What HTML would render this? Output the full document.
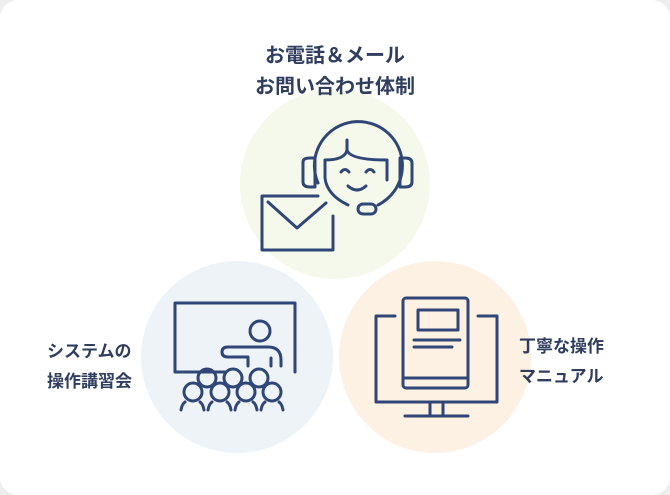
<!DOCTYPE html><html><head><meta charset="utf-8"><style>
body{margin:0;background:#eee;}
.w{position:relative;width:670px;height:495px;background:#fff;border-radius:18px;overflow:hidden;font-family:"Liberation Sans","Noto Sans CJK JP",sans-serif;}
.t{position:absolute;color:#2f3d5e;font-weight:bold;font-size:17px;line-height:30px;}
</style></head><body><div class="w">
<svg width="670" height="495" style="position:absolute;left:0;top:0">
<circle cx="335" cy="184" r="95" fill="#f5f9eb"/>
<circle cx="237" cy="357" r="96" fill="#eef3f8"/>
<circle cx="435" cy="357" r="96" fill="#fdf1e4"/>
<g fill="none" stroke="#2f4677" stroke-width="3" stroke-linecap="round" stroke-linejoin="round">
<path d="M318 183 A44 44 0 1 1 378 205"/>
<path d="M347 140 L347 150 Q345 160 325 160 L325 178 Q327 195 348 205"/>
<path d="M347 150 Q350 160 387 160 L387 180"/>
<path d="M303 162 Q303 158 310 158 L315 158 L315 187 L310 187 Q303 187 303 182Z"/>
<path d="M400 158 L405 158 Q412 158 412 163 L412 182 Q412 187 405 187 L400 187Z"/>
<path d="M341 172 Q345 167 349 172 M366 172 Q370 167 374 172 M348 186 Q357 194 366 186"/>
<rect x="358" y="204" width="18" height="10" rx="5"/>
<path d="M318 196 L262 196 L262 250 L333 250 L333 216"/>
<path d="M268 202 L297 228 L326 203"/>
<path d="M225 372 L175 372 L175 303 L295 303 L295 372"/>
<circle cx="260" cy="331" r="10"/>
<path d="M248 366 L248 357 L228 357 Q222 357 222 352 Q222 347 228 347 L268 347 Q281 347 281 360 L281 366 M271 358 L271 366"/>
<circle cx="207" cy="378" r="9"/><circle cx="233" cy="378" r="9"/><circle cx="259" cy="378" r="9"/>
<circle cx="193" cy="392" r="9" fill="#eef3f8"/><circle cx="220" cy="392" r="9" fill="#eef3f8"/><circle cx="246" cy="392" r="9" fill="#eef3f8"/><circle cx="272" cy="392" r="9" fill="#eef3f8"/>
<path d="M181 410 Q182 404 185 402 M204 410 Q203 404 200 402 M208 410 Q209 404 212 402 M231 410 Q230 404 227 402 M235 410 Q236 404 239 402 M257 410 Q256 404 253 402 M261 410 Q262 404 265 402 M283 410 Q282 404 279 402"/>
<path d="M395 316 L376 316 L376 402 L497 402 L497 316 L478 316"/>
<path d="M430 402 L430 416 M443 402 L443 416 M405 416 L468 416"/>
<rect x="403" y="298" width="65" height="90" rx="3" fill="#fdf1e4"/>
<path d="M403 378 L468 378"/>
<rect x="418" y="310" width="40" height="20"/>
<path d="M414 340 L460 340 M414 347 L452 347"/>
</g></svg>
<div class="t" style="left:0;width:670px;text-align:center;top:41px;font-size:20px;line-height:31px">お電話＆メール<br>お問い合わせ体制</div>
<div class="t" style="left:47px;top:337px">システムの<br>操作講習会</div>
<div class="t" style="left:519px;top:332px">丁寧な操作<br>マニュアル</div>
</div></body></html>
